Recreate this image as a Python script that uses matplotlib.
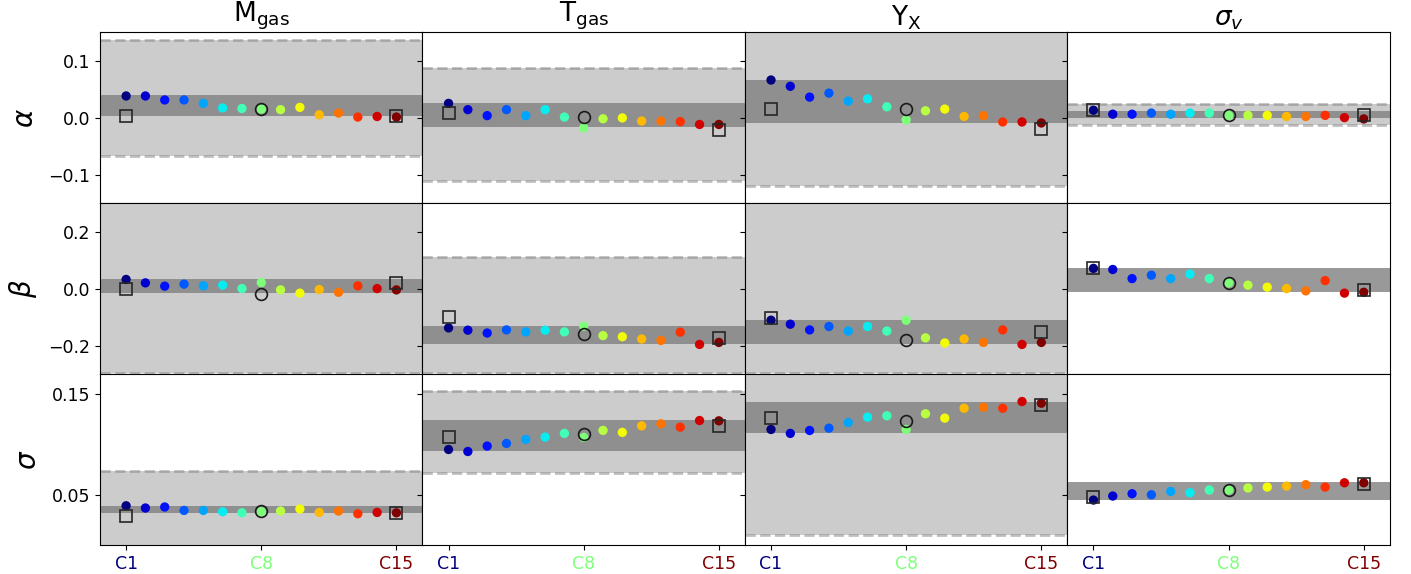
import numpy as np
import matplotlib
matplotlib.use("Agg")
import matplotlib.pyplot as plt

# ---------------- data ----------------
columns = [r"M$_{\rm gas}$", r"T$_{\rm gas}$", r"Y$_{\rm X}$", r"$\sigma_v$"]
rows = [r"$\alpha$", r"$\beta$", r"$\sigma$"]
cases = [f"C{i}" for i in range(1, 16)]
tick_cases = ["C1", "C8", "C15"]

# alpha row
alpha_mgas = [0.038, 0.038, 0.031, 0.031, 0.025, 0.017, 0.016, 0.015, 0.014, 0.018, 0.005, 0.008, 0.001, 0.002, 0.001]
alpha_tgas = [0.025, 0.014, 0.0035, 0.014, 0.0035, 0.014, 0.001, -0.018, -0.002, -0.0005, -0.006, -0.006, -0.007, -0.012, -0.012]
alpha_yx = [0.066, 0.055, 0.036, 0.043, 0.029, 0.033, 0.019, -0.004, 0.012, 0.015, 0.002, 0.0035, -0.0076, -0.0076, -0.0094]
alpha_sv = [0.013, 0.006, 0.006, 0.008, 0.006, 0.008, 0.008, 0.004, 0.004, 0.004, 0.002, 0.002, 0.004, 0.0, -0.0023]
# beta row
beta_mgas = [0.032, 0.020, 0.0085, 0.0156, 0.0096, 0.012, 0.0, 0.021, -0.0046, -0.016, -0.0035, -0.013, 0.0096, 0.0, -0.0046]
beta_tgas = [-0.138, -0.146, -0.156, -0.145, -0.152, -0.146, -0.152, -0.132, -0.165, -0.169, -0.177, -0.182, -0.153, -0.196, -0.189]
beta_yx = [-0.111, -0.125, -0.145, -0.133, -0.149, -0.133, -0.149, -0.111, -0.173, -0.191, -0.177, -0.189, -0.145, -0.196, -0.189]
beta_sv = [0.071, 0.067, 0.035, 0.047, 0.035, 0.051, 0.035, 0.020, 0.012, 0.005, 0.0, -0.008, 0.028, -0.016, -0.013]
# sigma row
sigma_mgas = [0.039, 0.0368, 0.0378, 0.0344, 0.0344, 0.0331, 0.032, 0.0331, 0.0338, 0.0358, 0.0324, 0.0338, 0.0311, 0.0324, 0.032]
sigma_tgas = [0.095, 0.093, 0.0984, 0.101, 0.105, 0.1073, 0.111, 0.107, 0.114, 0.112, 0.1185, 0.1205, 0.1172, 0.1238, 0.1235]
sigma_yx = [0.1149, 0.111, 0.1139, 0.1162, 0.1218, 0.1272, 0.1285, 0.1149, 0.1305, 0.1262, 0.136, 0.137, 0.136, 0.1427, 0.141]
sigma_sv = [0.0447, 0.0487, 0.051, 0.050, 0.0533, 0.052, 0.0547, 0.0547, 0.0567, 0.0576, 0.0586, 0.060, 0.0576, 0.0619, 0.0619]

values = [[alpha_mgas, alpha_tgas, alpha_yx, alpha_sv],
          [beta_mgas, beta_tgas, beta_yx, beta_sv],
          [sigma_mgas, sigma_tgas, sigma_yx, sigma_sv]]

# reference markers: square at C1, square at C15, circle at C8
square_c1 = [[0.0035, 0.0077, 0.016, 0.014],
             [-0.001, -0.098, -0.103, 0.071],
             [0.0288, 0.1073, 0.1262, 0.0477]]
square_c15 = [[0.002, -0.022, -0.020, 0.0042],
              [0.021, -0.172, -0.152, -0.0035],
              [0.032, 0.1182, 0.1394, 0.0609]]
circle_c8 = [[0.015, 0.001, 0.0153, 0.004],
             [-0.0177, -0.160, -0.182, 0.020],
             [0.0334, 0.110, 0.1238, 0.0547]]

# bands: (low, high); None = not shown
light_band = [[(-0.068, 0.137), (-0.112, 0.087), (-0.120, 0.200), (-0.0129, 0.0236)],
              [(-0.297, 0.400), (-0.297, 0.110), (-0.297, 0.400), None],
              [(-0.050, 0.0738), (0.0712, 0.153), (0.0103, 0.250), None]]
dark_band = [[(0.0024, 0.0395), (-0.0164, 0.026), (-0.0088, 0.0665), (-0.001, 0.012)],
             [(-0.014, 0.033), (-0.193, -0.132), (-0.193, -0.110), (-0.013, 0.072)],
             [(0.0318, 0.039), (0.0937, 0.124), (0.1116, 0.1424), (0.045, 0.0622)]]

ylims = [(-0.15, 0.15), (-0.30, 0.30), (0.0, 0.17)]
yticks = [[-0.1, 0.0, 0.1], [-0.2, 0.0, 0.2], [0.05, 0.15]]

# ---------------- plot ----------------
fig, axes = plt.subplots(3, 4, figsize=(14.11, 5.74), dpi=100, sharex=True, sharey="row")
fig.subplots_adjust(left=0.0709, right=0.985, top=0.944, bottom=0.0505, wspace=0, hspace=0)

x = np.arange(len(cases))
cmap = plt.get_cmap("jet")
colors = cmap(np.linspace(0, 1, len(cases)))
tick_pos = [cases.index(c) for c in tick_cases]

for r in range(3):
    for c in range(4):
        ax = axes[r, c]
        lb = light_band[r][c]
        if lb is not None:
            ax.axhspan(lb[0], lb[1], color="0.5", alpha=0.4, lw=0, zorder=1)
            for yy in lb:
                ax.axhline(yy, color="0.5", alpha=0.5, ls="--", lw=2, zorder=1.5)
        db = dark_band[r][c]
        ax.axhspan(db[0], db[1], color="0.5", alpha=0.8, lw=0, zorder=2)

        ax.scatter(x, values[r][c], c=colors, s=45, zorder=3, edgecolors="none")
        ax.plot(x[0], square_c1[r][c], marker="s", ms=8.5, mfc="none", mec="0.15", mew=1.2, zorder=4, ls="none")
        ax.plot(x[-1], square_c15[r][c], marker="s", ms=8.5, mfc="none", mec="0.15", mew=1.2, zorder=4, ls="none")
        ax.plot(x[7], circle_c8[r][c], marker="o", ms=8.5, mfc="none", mec="0.1", mew=1.2, zorder=4, ls="none")

        ax.set_ylim(*ylims[r])
        ax.set_xlim(-1.35, 15.35)
        if c == 0:
            ax.set_yticks(yticks[r])
            ax.set_ylabel(rows[r], fontsize=20, labelpad=7)
        if r == 0:
            ax.set_title(columns[c], fontsize=19, pad=5)
        ax.tick_params(axis="both", labelsize=12.5)
        for sp in ax.spines.values():
            sp.set_zorder(5)

for ax in axes[-1]:
    ax.set_xticks(tick_pos)
    ax.set_xticklabels(tick_cases)
    for lab, p in zip(ax.get_xticklabels(), tick_pos):
        lab.set_color(colors[p])

fig.savefig("out.png", dpi=100)
